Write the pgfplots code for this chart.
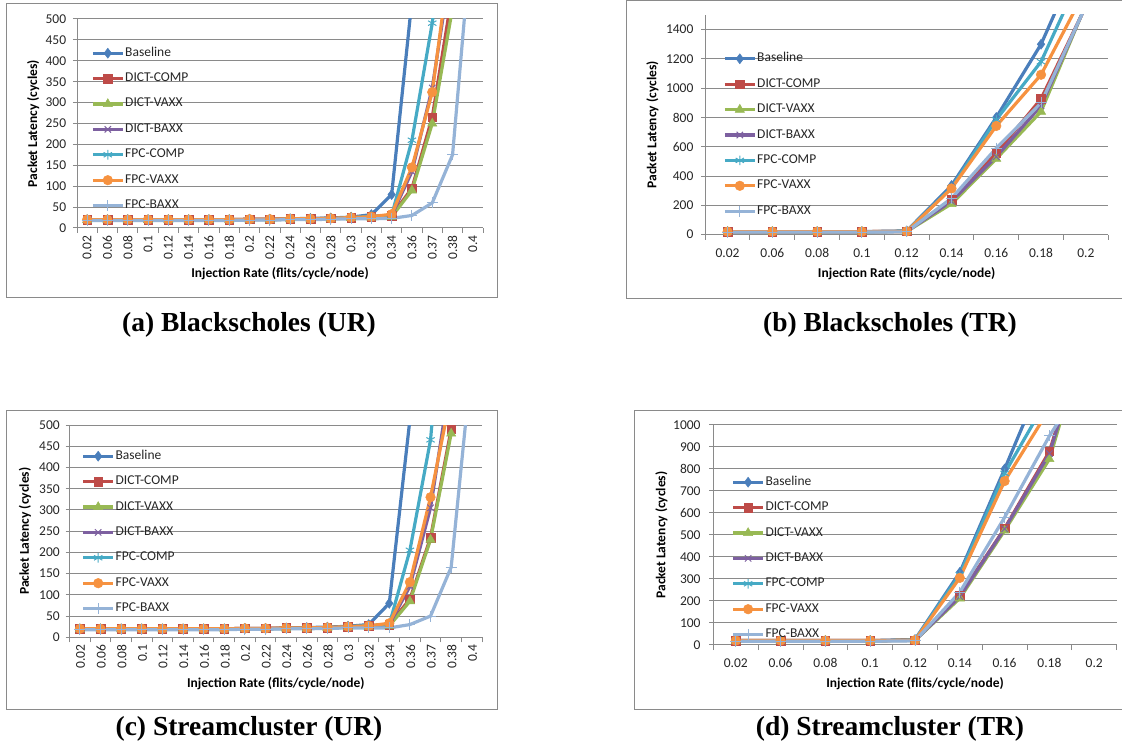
\documentclass[border=0pt]{standalone}
\usepackage{pgfplots}
\pgfplotsset{compat=1.18}
\usepackage{pgfplotstable}
\usepackage{fontspec}
\setmainfont{Liberation Serif}
\newfontfamily\calfont{Carlito}

\definecolor{cB}{HTML}{4A7EBB}
\definecolor{cDC}{HTML}{BE4B48}
\definecolor{cDV}{HTML}{98B954}
\definecolor{cDB}{HTML}{7D60A0}
\definecolor{cFC}{HTML}{46AAC5}
\definecolor{cFV}{HTML}{F69240}
\definecolor{cFB}{HTML}{95B3D7}
\definecolor{gridc}{HTML}{8A8A8A}
\definecolor{framec}{HTML}{8A8A8A}

% (a) Blackscholes UR
\pgfplotstableread{
i B DC DV DB FC FV FB
0 20 20 19 19 19 20 18
1 20 20 19 19 19 20 18
2 20 20 19 19 19 20 18
3 20 20 19 19 19 20 18
4 20 20 19 19 19 20 18
5 20 20 19 19 19 20 18
6 20 20 19 19 19 20 18
7 20 20 19 19 19 20 18
8 21 21 20 20 20 21 19
9 21 21 20 20 20 21 19
10 22 22 21 21 21 22 20
11 23 22 21 21 22 22 20
12 24 23 22 22 23 23 21
13 26 25 24 24 25 25 22
14 32 27 25 26 28 27 22
15 80 30 27 30 30 33 23
16 545 95 90 135 210 145 30
17 nan 265 250 335 490 325 60
18 nan 566 526 652 900 690 175
19 nan nan nan nan nan nan 735
}\ta

% (b) Blackscholes TR
\pgfplotstableread{
i B DC DV DB FC FV FB
0 20 20 19 19 19 20 17
1 20 20 19 19 19 20 17
2 20 20 19 19 19 20 17
3 20 20 19 19 19 20 17
4 25 22 21 21 23 22 19
5 335 237 210 228 320 315 248
6 800 556 518 532 785 742 590
7 1300 927 840 880 1181 1092 899
8 1990 1560 1570 1565 1847 1674 1563
}\tb

% (c) Streamcluster UR
\pgfplotstableread{
i B DC DV DB FC FV FB
0 20 20 19 19 19 20 18
1 20 20 19 19 19 20 18
2 20 20 19 19 19 20 18
3 20 20 19 19 19 20 18
4 20 20 19 19 19 20 18
5 20 20 19 19 19 20 18
6 20 20 19 19 19 20 18
7 20 20 19 19 19 20 18
8 21 21 20 20 20 21 19
9 21 21 20 20 20 21 19
10 22 22 21 21 21 22 20
11 23 22 21 21 22 22 20
12 24 23 22 22 23 23 21
13 26 25 24 24 25 25 22
14 30 27 25 26 28 27 22
15 80 30 27 30 30 33 22
16 513 90 85 120 205 130 30
17 nan 235 230 305 465 330 50
18 nan 490 480 620 1020 573 165
19 nan nan nan nan nan nan 650
}\tc

% (d) Streamcluster TR
\pgfplotstableread{
i B DC DV DB FC FV FB
0 20 20 19 19 19 20 17
1 20 20 19 19 19 20 17
2 20 20 19 19 19 20 17
3 20 20 19 19 19 20 17
4 25 22 21 21 23 22 19
5 330 225 212 220 320 305 240
6 800 530 520 528 780 745 580
7 1284 880 845 870 1135 1072 950
8 nan 1533 1533 1533 nan nan 1270
}\td

\pgfplotsset{
  excel/.style={
    scale only axis,
    ymin=0,
    axis x line*=bottom, axis y line*=left,
    axis line style={draw=gridc, line width=1pt},
    x axis line style={-}, y axis line style={-},
    ymajorgrids, grid style={draw=gridc, line width=1pt},
    tick align=outside,
    major tick length=4pt, minor tick length=5pt,
    tick style={draw=gridc, line width=1pt},
    major x tick style={draw=none},
    ticklabel style={font=\calfont\fontsize{13.5}{15}\selectfont, text=black!85},
    /pgf/number format/assume math mode=true,
    /pgf/number format/1000 sep={},
    scaled y ticks=false,
    label style={font=\calfont\bfseries\fontsize{13.5}{15}\selectfont},
    xlabel={Injection Rate (flits/cycle/node)},
    ylabel={Packet Latency (cycles)},
    legend cell align=left,
    legend style={draw=none, fill=none, inner sep=0pt, anchor=north west,
      row sep=11.8pt, font=\calfont\fontsize{13.5}{15}\selectfont,
      nodes={inner sep=0.8pt, text height=9pt, text depth=3pt, text=black!85}},
    legend image code/.code={\draw[mark repeat=2,mark phase=2,##1] plot coordinates {(0pt,0pt)(15pt,0pt)(30pt,0pt)};},
  },
  sB/.style={color=cB, line width=3.2pt, mark=diamond*, mark size=5pt, mark options={solid, fill=cB, line width=0.5pt}},
  sDC/.style={color=cDC, line width=3.2pt, mark=square*, mark size=4.3pt, mark options={solid, fill=cDC, line width=0.5pt}},
  sDV/.style={color=cDV, line width=3.2pt, mark=triangle*, mark size=5.3pt, mark options={solid, fill=cDV, line width=0.5pt}},
  sDB/.style={color=cDB, line width=3.2pt, mark=x, mark size=4.5pt, mark options={solid, line width=1pt}},
  sFC/.style={color=cFC, line width=3.2pt, mark=asterisk, mark size=4.8pt, mark options={solid, line width=1pt}},
  sFV/.style={color=cFV, line width=3.2pt, mark=*, mark size=4.8pt, mark options={solid, fill=cFV, line width=0.5pt}},
  sFB/.style={color=cFB, line width=3.2pt, mark=+, mark size=5.5pt, mark options={solid, line width=1pt}},
}

\newcommand\allseries[1]{%
  \addplot[sB] table[x=i,y=B]{#1};
  \addplot[sDC] table[x=i,y=DC]{#1};
  \addplot[sDV] table[x=i,y=DV]{#1};
  \addplot[sDB] table[x=i,y=DB]{#1};
  \addplot[sFC] table[x=i,y=FC]{#1};
  \addplot[sFV] table[x=i,y=FV]{#1};
  \addplot[sFB] table[x=i,y=FB]{#1};
  \legend{Baseline,DICT-COMP,DICT-VAXX,DICT-BAXX,FPC-COMP,FPC-VAXX,FPC-BAXX}
}

\begin{document}
\begin{tikzpicture}
\useasboundingbox (0pt,0pt) rectangle (1122pt,742pt);

% frames
\draw[framec, line width=1pt] (6.4pt,738pt) rectangle (497.5pt,444pt);
\draw[framec, line width=1pt] (1123pt,741pt) -- (626.3pt,741pt) -- (626.3pt,443pt) -- (1123pt,443pt);
\draw[framec, line width=1pt] (6.4pt,331pt) rectangle (497.5pt,33pt);
\draw[framec, line width=1pt] (1123pt,331pt) -- (634.2pt,331pt) -- (634.2pt,33pt) -- (1123pt,33pt);

% (a)
\begin{axis}[excel, at={(77pt,514pt)}, anchor=south west, width=406pt, height=209pt,
  xmin=-0.5, xmax=19.5, ymax=500, ytick={0,50,...,500},
  xtick={0,...,19},
  xticklabels={0.02,0.06,0.08,0.1,0.12,0.14,0.16,0.18,0.2,0.22,0.24,0.26,0.28,0.3,0.32,0.34,0.36,0.37,0.38,0.4},
  minor xtick={-0.5,0.5,...,19.5},
  xticklabel style={rotate=90, anchor=east},
  yticklabel style={xshift=-3.3pt},
  xlabel style={at={(axis description cs:0.5,-0.2167)}, anchor=center},
  ylabel style={at={(axis description cs:-0.1079,0.5)}, anchor=center},
  legend style={at={(0.0345,0.8699)}},
]
\allseries{\ta}
\end{axis}

% (b)
\begin{axis}[excel, at={(705.2pt,507.4pt)}, anchor=south west, width=403pt, height=219.6pt,
  xmin=-0.5, xmax=8.5, ymax=1500, ytick={0,200,...,1400},
  xtick={0,...,8},
  xticklabels={0.02,0.06,0.08,0.1,0.12,0.14,0.16,0.18,0.2},
  minor xtick={-0.5,0.5,...,8.5},
  xticklabel style={yshift=-6.2pt},
  yticklabel style={xshift=-4.3pt},
  xlabel style={at={(axis description cs:0.5,-0.1794)}, anchor=center},
  ylabel style={at={(axis description cs:-0.1308,0.5)}, anchor=center},
  legend style={at={(0.0442,0.8324)}},
]
\allseries{\tb}
\end{axis}

% (c)
\begin{axis}[excel, at={(69.6pt,104.7pt)}, anchor=south west, width=412.5pt, height=212.3pt,
  xmin=-0.5, xmax=19.5, ymax=500, ytick={0,50,...,500},
  xtick={0,...,19},
  xticklabels={0.02,0.06,0.08,0.1,0.12,0.14,0.16,0.18,0.2,0.22,0.24,0.26,0.28,0.3,0.32,0.34,0.36,0.37,0.38,0.4},
  minor xtick={-0.5,0.5,...,19.5},
  xticklabel style={rotate=90, anchor=east, yshift=-0.7pt},
  yticklabel style={xshift=-2.3pt},
  xlabel style={at={(axis description cs:0.5,-0.22)}, anchor=center},
  ylabel style={at={(axis description cs:-0.1081,0.5)}, anchor=center},
  legend style={at={(0.0286,0.886)}},
]
\allseries{\tc}
\end{axis}

% (d)
\begin{axis}[excel, at={(713.4pt,97pt)}, anchor=south west, width=403.2pt, height=220pt,
  xmin=-0.5, xmax=8.5, ymax=1000, ytick={0,100,...,1000},
  xtick={0,...,8},
  xticklabels={0.02,0.06,0.08,0.1,0.12,0.14,0.16,0.18,0.2},
  minor xtick={-0.5,0.5,...,8.5},
  xticklabel style={yshift=-6pt},
  yticklabel style={xshift=-5.3pt},
  xlabel style={at={(axis description cs:0.5,-0.1773)}, anchor=center},
  ylabel style={at={(axis description cs:-0.129,0.5)}, anchor=center},
  legend style={at={(0.0444,0.7718)}},
]
\allseries{\td}
\end{axis}

% captions
\node[anchor=base, font=\bfseries\fontsize{27.5}{30}\selectfont] at (249pt,410pt) {(a) Blackscholes (UR)};
\node[anchor=base, font=\bfseries\fontsize{27.5}{30}\selectfont] at (890pt,410pt) {(b) Blackscholes (TR)};
\node[anchor=base, font=\bfseries\fontsize{27.5}{30}\selectfont] at (249pt,6.5pt) {(c) Streamcluster (UR)};
\node[anchor=base, font=\bfseries\fontsize{27.5}{30}\selectfont] at (890pt,6.5pt) {(d) Streamcluster (TR)};
\end{tikzpicture}
\end{document}
